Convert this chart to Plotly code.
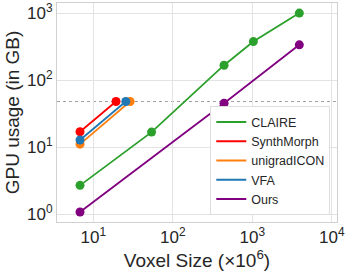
import plotly.graph_objects as go

methods = ["CLAIRE", "SynthMorph", "unigradICON", "VFA", "Ours"]
colors = ["#2ca02c", "#ff0000", "#ff7f0e", "#1f77b4", "#800080"]

claire_x = [6.8, 54, 441, 1030, 3900]
claire_y = [2.7, 16.8, 167, 376, 1000]
synth_x = [6.8, 19.3]
synth_y = [17.0, 48]
unigrad_x = [6.8, 29.0]
unigrad_y = [11.1, 48]
vfa_x = [6.8, 25.6]
vfa_y = [12.8, 48]
ours_x = [6.8, 441, 3900]
ours_y = [1.08, 45.2, 336]

gpu_limit = 48

x_tick_vals = [10, 100, 1000, 10000]
x_tick_text = ["10<sup>1</sup>", "10<sup>2</sup>", "10<sup>3</sup>", "10<sup>4</sup>"]
y_tick_vals = [1, 10, 100, 1000]
y_tick_text = ["10<sup>0</sup>", "10<sup>1</sup>", "10<sup>2</sup>", "10<sup>3</sup>"]

series = [(claire_x, claire_y), (synth_x, synth_y), (unigrad_x, unigrad_y),
          (vfa_x, vfa_y), (ours_x, ours_y)]

fig = go.Figure()
fig.add_hline(y=gpu_limit, line=dict(color="#a0a0a0", width=1, dash="dot"), layer="below")

for name, col, (xs, ys) in zip(methods, colors, series):
    fig.add_trace(go.Scatter(x=xs, y=ys, mode="lines+markers", name=name,
                             line=dict(color=col, width=1.8),
                             marker=dict(color=col, size=9),
                             showlegend=False))
for name, col in zip(methods, colors):
    fig.add_trace(go.Scatter(x=[None], y=[None], mode="lines", name=name,
                             line=dict(color=col, width=2)))

txt = "#262626"
grid = "#e3e3e3"
fig.update_layout(
    width=349, height=276,
    margin=dict(l=57, r=12, t=3, b=54),
    paper_bgcolor="white", plot_bgcolor="white",
    font=dict(family="Liberation Sans, Arial", color=txt, size=17),
    showlegend=True,
    legend=dict(x=0.976, xanchor="right", y=0.03, yanchor="bottom",
                bgcolor="white", bordercolor="#dddddd", borderwidth=1,
                font=dict(size=12.5, color=txt), tracegroupgap=0),
)
fig.update_xaxes(type="log", range=[0.543, 4.065], tickvals=x_tick_vals, ticktext=x_tick_text,
                 automargin=False,
                 showgrid=True, gridcolor=grid, gridwidth=1,
                 showline=True, mirror=True, linecolor="#d0d0d0", linewidth=1,
                 ticks="", tickfont=dict(size=17, color=txt),
                 title=dict(text="Voxel Size (×10<sup>6</sup>)", font=dict(size=19, color=txt), standoff=4))
fig.update_yaxes(type="log", range=[-0.115, 3.15], tickvals=y_tick_vals, ticktext=y_tick_text,
                 automargin=False,
                 showgrid=True, gridcolor=grid, gridwidth=1,
                 showline=True, mirror=True, linecolor="#d0d0d0", linewidth=1,
                 ticks="", tickfont=dict(size=17, color=txt),
                 title=dict(text="GPU usage (in GB)", font=dict(size=19, color=txt), standoff=2))

fig.write_html("out.html", config={"displayModeBar": False},
               post_script="document.body.style.margin='0';")
